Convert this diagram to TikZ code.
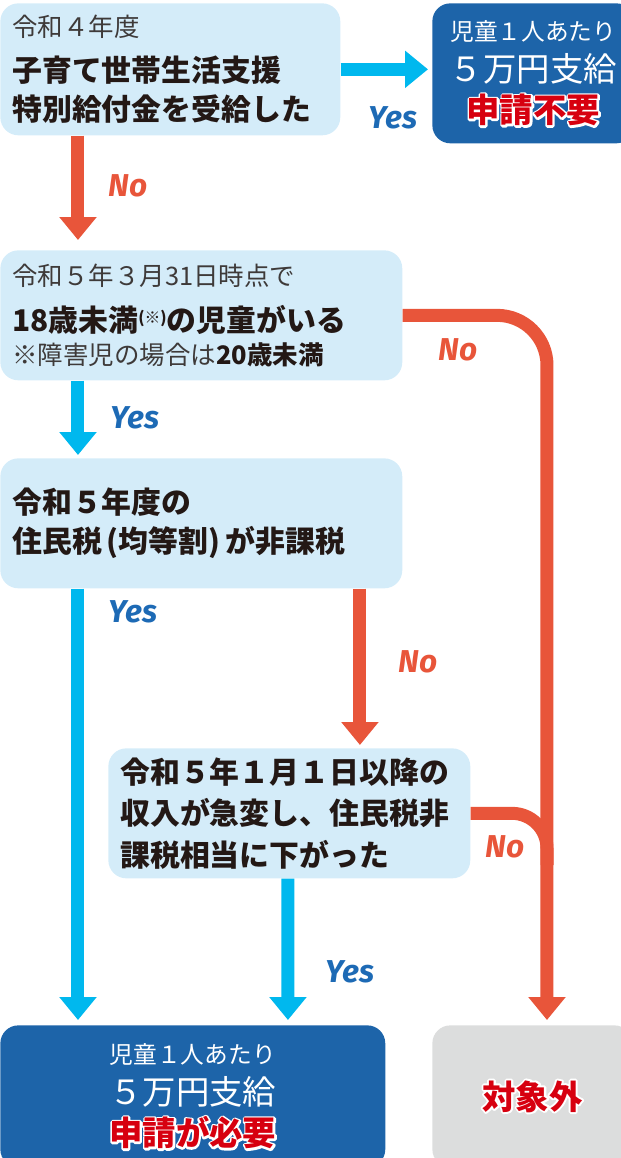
\documentclass[tikz,border=0pt]{standalone}
\usepackage{fontspec}
\setmainfont{Noto Sans CJK JP}
\newfontfamily\yesnofont{Fira Sans}
\usetikzlibrary{arrows.meta}
\definecolor{boxblue}{HTML}{D4ECF9}
\definecolor{deepblue}{HTML}{1D64A9}
\definecolor{skyarrow}{HTML}{00B8EE}
\definecolor{noorange}{HTML}{E8553A}
\definecolor{alertred}{HTML}{D7000F}
\definecolor{outgray}{HTML}{DCDDDD}
\definecolor{ink}{HTML}{231815}
\definecolor{softink}{HTML}{3E3A39}
\definecolor{yesblue}{HTML}{1D6AB5}
\newcommand\glowred[1]{\leavevmode\rlap{\special{pdf:literal direct 1 Tr 2.2 w 1 j}\textcolor{white}{#1}\special{pdf:literal direct 0 Tr}}\textcolor{alertred}{#1}}
\begin{document}
\begin{tikzpicture}[x=0.02cm, y=-0.02cm, line join=round,
  qbox/.style={fill=boxblue, rounded corners=0.36cm, anchor=north west, align=left, inner xsep=0.24cm, inner ysep=0pt, text=ink,
    font=\bfseries\fontsize{17}{22}\selectfont},
  resbox/.style={fill=deepblue, rounded corners=0.36cm, anchor=north west, align=center, inner sep=0pt, text=white,
    font=\fontsize{19}{23.5}\selectfont},
  yesline/.style={draw=skyarrow, line width=0.26cm, -{Triangle[width=0.72cm,length=0.46cm]}},
  noline/.style={draw=noorange, line width=0.26cm, -{Triangle[width=0.72cm,length=0.46cm]}},
  yes/.style={text=yesblue, font=\yesnofont\bfseries\itshape\fontsize{18}{18}\selectfont},
  no/.style={yes, text=noorange}]
\def\small{\color{softink}\mdseries\fontsize{14.5}{17}\selectfont}
\def\big{\color{ink}\bfseries\fontsize{17}{22}\selectfont}
\useasboundingbox (0,0) rectangle (620,1158);
\node[qbox, minimum width=6.8cm, minimum height=2.64cm, text width=6.32cm] (q1) at (0,3)
  {\small 令和４年度\\[3.5pt]\big 子育て世帯生活支援\\特別給付金を受給した};
\node[resbox, minimum width=4.04cm, minimum height=2.8cm] (res1) at (432,3)
  {\fontsize{13.5}{17}\selectfont 児童１人あたり\\\fontsize{19}{22}\selectfont ５万円支給\\
   \bfseries\glowred{申請不要}};
\node[qbox, minimum width=8.04cm, minimum height=2.6cm, text width=7.56cm] (q2) at (0,250)
  {\small 令和５年３月31日時点で\\[4pt]\big 18歳未満{\fontsize{9}{9}\selectfont\raisebox{4pt}{(※)}}の児童がいる\\[-3pt]
   \small ※障害児の場合は{\bfseries\color{ink}20歳未満}};
\node[qbox, minimum width=8.04cm, minimum height=2.6cm, text width=7.56cm] (q3) at (0,458)
  {令和５年度の\\[0.5pt]住民税\,(均等割)\,が非課税};
\node[qbox, minimum width=7.24cm, minimum height=2.6cm, text width=6.76cm] (q4) at (108,748)
  {令和５年１月１日以降の\\[1.5pt]収入が急変し、住民税非\\[1.5pt]課税相当に下がった};
\node[resbox, minimum width=7.7cm, minimum height=2.84cm] (res2) at (0,1025)
  {\fontsize{13.5}{17}\selectfont 児童１人あたり\\\fontsize{19}{22}\selectfont ５万円支給\\
   \bfseries\glowred{申請が必要}};
\node[resbox, fill=outgray, minimum width=4cm, minimum height=2.84cm] (res3) at (432,1025)
  {\bfseries\glowred{対象外}};
\coordinate (join) at (547,865);
\draw[yesline, shorten >=0.08cm] (q1.east) -- (q1.east -| res1.west);
\draw[noline, shorten >=0.2cm] ([xshift=1.56cm]q1.south west) -- ([xshift=1.56cm]q2.north west);
\draw[yesline, shorten >=0.06cm] ([xshift=1.56cm]q2.south west) -- ([xshift=1.56cm]q3.north west);
\draw[yesline, shorten >=0.1cm] ([xshift=1.56cm]q3.south west) -- ([xshift=1.56cm]res2.north west);
\draw[noline, shorten >=0.06cm] ([xshift=7.2cm]q3.south west) -- ([xshift=7.2cm]q3.south west |- q4.north);
\draw[yesline, shorten >=0.1cm] ([xshift=3.6cm]q4.south west) -- ([xshift=5.76cm]res2.north west);
\draw[noline, rounded corners=1cm, shorten >=0.1cm] (q2.east) -| ([xshift=2.3cm]res3.north west);
\draw[draw=noorange, line width=0.26cm, rounded corners=0.7cm] (q4.east) -| (join);
\node[yes] (y1) at (393,118) {Yes};
\node[no] (n1) at (128,186) {No};
\node[yes] (y2) at (135,418) {Yes};
\node[no] (n2) at (458,350) {No};
\node[yes] (y3) at (133,612) {Yes};
\node[no] (n3) at (418,662) {No};
\node[no] (n4) at (505,847) {No};
\node[yes] (y4) at (350,972) {Yes};
\end{tikzpicture}
\end{document}
